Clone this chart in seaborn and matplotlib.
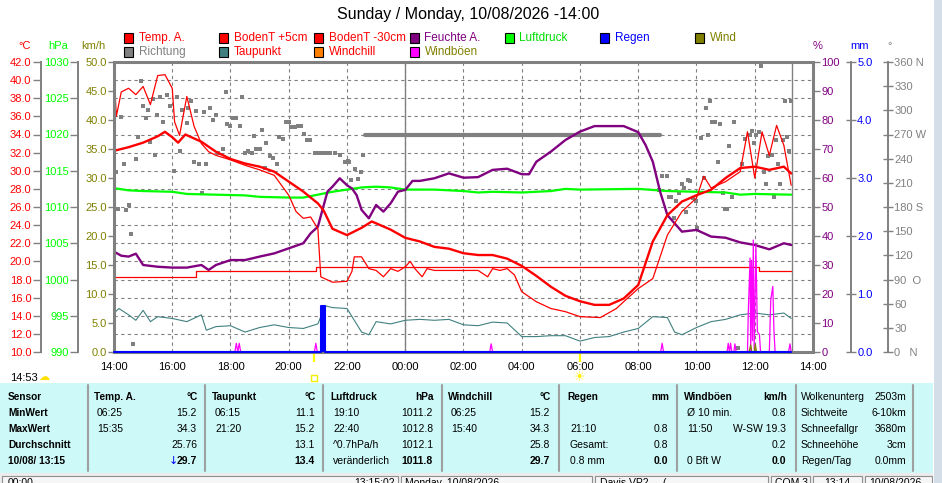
import matplotlib
matplotlib.use("Agg")
import matplotlib.pyplot as plt
import seaborn as sns
from matplotlib.patches import Rectangle
from matplotlib.lines import Line2D

# ------------------------------------------------------------------
# Values (time = hours after 14:00)
# ------------------------------------------------------------------
title = "Sunday / Monday, 10/08/2026 -14:00"
x_ticks = [0, 2, 4, 6, 8, 10, 12, 14, 16, 18, 20, 22, 24]
x_labels = ["14:00", "16:00", "18:00", "20:00", "22:00", "00:00", "02:00",
            "04:00", "06:00", "08:00", "10:00", "12:00", "14:00"]
midnight = 10
now_t = 23.28

# Temp. A. (°C)
temp_t = [0, 0.5, 1, 1.5, 1.75, 2, 2.2, 2.45, 3, 3.5, 4, 4.5, 5, 5.5, 6, 6.5, 7, 7.2, 7.5, 8,
          8.5, 8.85, 9, 9.5, 10, 10.5, 11, 11.5, 12, 12.5, 13, 13.5, 14, 14.5, 15, 15.5, 16, 16.5, 17, 17.5,
          18, 18.5, 19, 19.5, 20, 20.5, 21, 21.5, 22, 22.5, 23, 23.25]
temp_a = [32.2, 32.6, 33.1, 33.8, 34.3, 33.7, 33.1, 34.0, 33.2, 32.1, 31.3, 30.8, 30.45, 29.9, 28.8, 27.7, 26.4, 25.6, 23.6, 22.9,
          23.7, 24.4, 24.2, 23.5, 22.6, 22.2, 21.6, 21.4, 20.9, 20.7, 20.7, 20.3, 19.5, 18.4, 17.2, 16.2, 15.6, 15.2, 15.2, 15.9,
          17.4, 22.2, 25.1, 26.6, 27.3, 27.9, 29.2, 30.3, 30.45, 30.1, 30.45, 29.7]

# BodenT +5cm (°C)
b5_t = [0, 0.08, 0.25, 0.5, 0.75, 1.0, 1.25, 1.5, 1.75, 2.0, 2.08, 2.25, 2.5, 2.75, 3.0, 3.25, 3.5, 4.0, 4.5, 5.0,
        5.5, 6.0, 6.25, 6.5, 6.75, 7.0, 7.1, 7.5, 8.0, 8.17, 8.25, 8.5, 8.75, 9.0, 9.25, 9.5, 9.75, 10.0, 10.17, 10.33,
        10.58, 10.75, 11.0, 11.5, 12.0, 12.5, 12.83, 13.0, 13.25, 13.5, 13.75, 14.0, 14.5, 15.0, 15.5, 16.0, 16.7, 17.25, 17.5, 18.0,
        18.5, 19.0, 19.5, 20.0, 20.25, 20.5, 21.0, 21.5, 21.75, 22.0, 22.25, 22.5, 22.75, 23.0, 23.25]
b5 = [41.1, 36.0, 38.7, 39.1, 38.4, 39.3, 37.3, 40.5, 40.6, 39.1, 35.4, 33.9, 38.2, 34.9, 33.0, 32.1, 31.7, 31.2, 30.6, 30.1,
      29.5, 27.3, 25.5, 24.75, 24.9, 23.6, 18.3, 17.7, 17.8, 18.9, 20.5, 20.5, 19.2, 19.0, 18.3, 19.2, 18.9, 19.4, 20.0, 19.2,
      18.3, 19.2, 19.0, 19.0, 19.0, 19.0, 18.3, 19.2, 19.0, 19.2, 18.5, 16.65, 15.55, 14.8, 14.45, 13.9, 13.8, 14.8, 15.55, 17.0,
      18.1, 22.9, 25.5, 27.0, 29.4, 28.1, 28.8, 29.9, 34.3, 29.2, 34.3, 31.7, 35.0, 32.8, 28.4]

# BodenT -30cm (°C), stepwise
b30_t = [0, 2.8, 6.95, 22.15, 23.25]
b30 = [18.3, 18.9, 19.4, 18.9, 18.9]

# Taupunkt (°C)
dp_t = [0, 0.17, 0.5, 0.75, 1.0, 1.25, 1.5, 2.0, 2.5, 3.0, 3.17, 3.5, 4.0, 4.5, 5.0, 5.5, 6.0, 6.5, 7.0, 7.25,
        7.5, 8.0, 8.5, 8.75, 9.0, 9.5, 10.0, 10.5, 11.0, 11.5, 12.0, 12.5, 13.0, 13.5, 14.0, 14.5, 15.0, 15.5, 16.0, 16.5,
        17.0, 17.5, 18.0, 18.5, 19.0, 19.25, 19.5, 20.0, 20.5, 21.0, 21.5, 22.0, 22.5, 23.0, 23.25]
dp = [14.3, 14.8, 14.1, 13.5, 14.6, 13.35, 13.9, 13.7, 13.35, 14.1, 12.4, 12.8, 12.9, 12.2, 12.7, 13.0, 12.7, 12.6, 13.1, 15.1,
      14.9, 14.8, 12.2, 11.9, 13.35, 13.1, 13.5, 13.6, 13.5, 13.6, 13.0, 12.9, 13.3, 13.2, 11.7, 11.7, 11.8, 11.8, 11.2, 11.6,
      11.7, 12.2, 12.6, 13.9, 13.8, 12.2, 11.9, 12.7, 13.35, 13.6, 14.1, 14.3, 14.1, 14.3, 13.7]

# Feuchte A. (%)
hum_t = [0, 0.25, 0.5, 0.75, 1.0, 1.5, 2.0, 2.5, 3.0, 3.25, 3.5, 4.0, 4.5, 5.0, 5.5, 6.0, 6.5, 6.75, 7.0, 7.17,
         7.33, 7.5, 7.75, 8.0, 8.17, 8.33, 8.5, 8.75, 9.0, 9.25, 9.5, 9.75, 10.0, 10.25, 10.5, 11.0, 11.5, 12.0, 12.5, 13.0,
         13.5, 14.0, 14.25, 14.5, 15.0, 15.5, 16.0, 16.5, 17.0, 17.5, 18.0, 18.25, 18.5, 18.75, 19.0, 19.5, 20.0, 20.5, 21.0, 21.5,
         22.0, 22.5, 23.0, 23.25]
hum = [34.6, 33.2, 32.9, 33.9, 30.0, 29.4, 29.1, 29.1, 30.0, 28.3, 30.0, 31.7, 31.7, 32.9, 34.0, 35.75, 37.5, 40.9, 43.2, 49.5,
       55.3, 57.0, 59.9, 57.5, 56.4, 54.1, 49.0, 46.1, 50.7, 48.4, 51.3, 55.3, 55.9, 59.0, 59.0, 59.9, 61.6, 60.1, 60.3, 62.8,
       63.2, 61.3, 61.3, 65.6, 69.1, 73.1, 76.0, 77.9, 77.9, 77.9, 75.8, 71.4, 65.6, 55.3, 47.2, 41.5, 42.1, 39.8, 39.4, 37.8,
       36.9, 35.4, 37.5, 36.9]

# Luftdruck (hPa)
p_t = [0, 0.5, 1.0, 2.0, 2.5, 3.5, 4.5, 5.0, 6.0, 6.5, 7.0, 7.5, 8.0, 8.5, 9.0, 9.5, 10.0, 11.0, 12.0, 12.5,
       13.0, 14.0, 15.0, 15.5, 16.0, 18.0, 19.0, 20.0, 21.0, 21.5, 22.0, 23.25]
pressure = [1012.6, 1012.3, 1012.2, 1012.1, 1011.8, 1011.7, 1011.6, 1011.4, 1011.3, 1011.3,
            1011.7, 1012.1, 1012.4, 1012.7, 1012.8, 1012.7, 1012.4, 1012.4, 1012.2, 1012.0,
            1012.1, 1012.0, 1012.2, 1012.5, 1012.4, 1012.5, 1012.2, 1012.1, 1012.0, 1011.7, 1011.8, 1011.7]

# Richtung (°), single readings plus the calm period held at 270°
dir_t = [0.07, 0.15, 0.23, 0.34, 0.41, 0.53, 0.57, 0.64, 0.75, 0.83, 0.91, 0.98, 1.10, 1.18, 1.23, 1.33, 1.41, 1.49, 1.58, 1.67,
         1.75, 1.81, 1.92, 2.07, 2.15, 2.26, 2.32, 2.49, 2.55, 2.66, 2.74, 2.83, 2.91, 3.01, 3.09, 3.15, 3.29, 3.41, 3.50, 3.58,
         3.73, 3.84, 3.89, 4.00, 4.09, 4.18, 4.32, 4.41, 4.49, 4.61, 4.75, 4.81, 4.89, 5.01, 5.09, 5.18, 5.23, 5.35, 5.46, 5.58,
         5.66, 5.81, 5.92, 6.01, 6.09, 6.21, 6.32, 6.41, 6.51, 6.61, 6.72, 6.89, 7.01, 7.15, 7.29, 7.43, 7.58, 7.75, 7.92, 8.03,
         8.07, 8.15, 8.26, 8.38, 8.49, 8.55,
         18.71, 18.80, 18.97, 19.05, 19.14, 19.22, 19.30, 19.39, 19.49, 19.57, 19.65, 19.71, 19.79, 19.87, 19.97, 20.03, 20.14, 20.25,
         20.31, 20.40, 20.48, 20.54, 20.65, 20.74, 20.82, 20.90, 20.97, 21.06, 21.13, 21.22, 21.30, 21.41, 21.57, 21.65, 21.82, 21.89,
         21.97, 22.05, 22.14, 22.23, 22.31, 22.39, 22.46, 22.59, 22.65, 22.73, 22.80, 22.88, 22.96, 23.03, 23.11, 23.17, 23.23]
dir_deg = [224, 178, 292, 234, 176, 182, 147, 10, 240, 267, 336, 305, 291, 301, 261, 314, 245, 294, 316, 286,
           360, 319, 306, 225, 316, 249, 301, 284, 303, 311, 236, 299, 234, 197, 298, 234, 303, 288, 294, 247,
           252, 323, 283, 281, 291, 291, 281, 317, 247, 250, 247, 268, 252, 252, 276, 229, 260, 243, 241, 233,
           267, 265, 285, 285, 279, 279, 280, 281, 271, 263, 263, 247, 247, 247, 247, 247, 247, 245, 236, 237,
           236, 214, 227, 215, 224, 245,
           201, 218, 218, 193, 193, 166, 187, 197, 209, 203, 174, 214, 212, 191, 187, 154, 266, 216,
           303, 270, 312, 286, 286, 236, 283, 197, 177, 178, 256, 193, 285, 5, 234, 264, 269, 274,
           260, 269, 273, 355, 224, 209, 243, 245, 193, 263, 233, 208, 263, 311, 267, 250, 311]
calm_t = [8.63, 18.74]
calm_deg = [270, 270]

# Windböen and Wind (km/h)
gust_t = [0, 4.15, 4.2, 4.25, 4.3, 4.35, 6.88, 6.93, 6.98, 12.9, 12.95, 13.0, 18.77, 18.82, 18.87,
          21.05, 21.09, 21.13, 21.17, 21.21, 21.28, 21.32, 21.36, 21.75, 21.78, 21.84, 21.86, 21.89, 21.92,
          21.95, 21.98, 22.04, 22.09, 22.16, 22.2, 22.5, 22.55, 22.62, 22.66, 22.7, 23.16, 23.21, 23.25]
gust = [0, 0, 1.5, 0, 1.5, 0, 0, 1.5, 0, 0, 1.4, 0, 0, 1.5, 0,
        0, 1.5, 0, 1.5, 0, 0, 1.4, 0, 0, 7.2, 16.2, 0, 15.8, 2.0,
        19.3, 0.5, 18.4, 3.5, 3.0, 0, 0, 9.0, 11.3, 3.5, 0, 0, 1.4, 0]
wind_t = [0, 21.8, 21.86, 21.9, 21.98, 22.02, 22.06, 23.25]
wind = [0, 0, 1.2, 0, 0, 1.3, 0, 0]

# Regen (mm)
rain_t = [0, 7.1, 7.25, 23.25]
rain_mm = [0, 0.8, 0, 0]

sun_t = [6.87, 16.0]      # sunset 20:52, sunrise 06:00

# scales
c_ticks = [10, 12, 14, 16, 18, 20, 22, 24, 26, 28, 30, 32, 34, 36, 38, 40, 42]
hpa_ticks = [990, 995, 1000, 1005, 1010, 1015, 1020, 1025, 1030]
kmh_ticks = [0, 5, 10, 15, 20, 25, 30, 35, 40, 45, 50]
pct_ticks = [0, 10, 20, 30, 40, 50, 60, 70, 80, 90, 100]
mm_ticks = [0, 1, 2, 3, 4, 5]
deg_ticks = [0, 30, 60, 90, 120, 150, 180, 210, 240, 270, 300, 330, 360]
deg_labels = ["0   N", "30", "60", "90  O", "120", "150", "180 S", "210", "240", "270 W", "300", "330", "360 N"]

# legend
legend_rows = [
    [("Temp. A.", "#ff0000", "#ff0000"), ("BodenT +5cm", "#ff0000", "#ff0000"),
     ("BodenT -30cm", "#ff0000", "#ff0000"), ("Feuchte A.", "#800080", "#800080"),
     ("Luftdruck", "#00ff00", "#00dd00"), ("Regen", "#0000ff", "#0000ff"), ("Wind", "#808000", "#808000")],
    [("Richtung", "#808080", "#808080"), ("Taupunkt", "#408080", "#ff0000"),
     ("Windchill", "#ff8000", "#ff0000"), ("Windböen", "#ff00ff", "#808000")],
]

# statistics table
row_labels = ["Sensor", "MinWert", "MaxWert", "Durchschnitt", "10/08/ 13:15"]
table_heads = [("Temp. A.", "°C"), ("Taupunkt", "°C"), ("Luftdruck", "hPa"),
               ("Windchill", "°C"), ("Regen", "mm"), ("Windböen", "km/h")]
table_items = [["06:25", "15:35", "", ""], ["06:15", "21:20", "", ""],
               ["19:10", "22:40", "^0.7hPa/h", "veränderlich"], ["06:25", "15:40", "", ""],
               ["", "21:10", "Gesamt:", "0.8 mm"], ["Ø 10 min.", "11:50", "", "0 Bft W"]]
table_values = [["15.2", "34.3", "25.76", "29.7"], ["11.1", "15.2", "13.1", "13.4"],
                ["1011.2", "1012.8", "1012.1", "1011.8"], ["15.2", "34.3", "25.8", "29.7"],
                ["", "0.8", "0.8", "0.0"], ["0.8", "W-SW 19.3", "0.2", "0.0"]]
extra_names = ["Wolkenunterg", "Sichtweite", "Schneefallgr", "Schneehöhe", "Regen/Tag"]
extra_values = ["2503m", "6-10km", "3680m", "3cm", "0.0mm"]
status_texts = [("00:00", 8, "left"), ("13:15:02", 395, "right"), ("Monday, 10/08/2026", 405, "left"),
                ("Davis VP2 ... (...", 600, "left"), ("COM 3", 775, "left"), ("13:14", 824, "left"),
                ("10/08/2026", 869, "left")]

# ------------------------------------------------------------------
W, H = 942, 483
RED, PURPLE, GREEN, TEAL = "#ff0000", "#800080", "#00ff00", "#408080"
GRAY, BLUE, OLIVE, MAGENTA = "#808080", "#0000ff", "#808000", "#ff00ff"
CYAN = "#cdf9f8"

sns.set_style("white")
plt.rcParams["font.family"] = ["Liberation Sans", "DejaVu Sans"]
PT = 0.72  # points per pixel at 100 dpi


def fx(px):
    return px / W


def fy(py):
    return 1 - py / H


def put(px, py, s, **kw):
    kw.setdefault("va", "center")
    fig.text(fx(px), fy(py), s, **kw)


def style_axis(a, side, offset_px, color, length=4, direction="out", pad=1):
    for s in a.spines.values():
        s.set_visible(False)
    sp = a.spines[side]
    sp.set_visible(True)
    sp.set_position(("outward", offset_px * PT))
    sp.set_color(GRAY)
    sp.set_linewidth(1.4)
    if side == "left":
        a.yaxis.tick_left()
    else:
        a.yaxis.tick_right()
    a.tick_params(axis="y", direction=direction, length=length, width=1, color=GRAY,
                  labelcolor=color, labelsize=8, pad=pad)
    a.tick_params(axis="x", bottom=False, labelbottom=False, top=False, labeltop=False)


def hide_axis(a):
    for s in a.spines.values():
        s.set_visible(False)
    a.set_yticks([])
    a.tick_params(axis="both", left=False, right=False, bottom=False, labelbottom=False,
                  labelleft=False, labelright=False)


fig = plt.figure(figsize=(W / 100, H / 100), dpi=100)
fig.patch.set_facecolor("white")

host = fig.add_axes([fx(114), fy(352), 699 / W, 290 / H])   # °C scale + grid
ax_d = host.twinx()
ax_h = host.twinx()
ax_p = host.twinx()
ax_t = host.twinx()
ax_k = host.twinx()
ax_mm = host.twinx()

# --- series ---
sns.scatterplot(x=dir_t, y=dir_deg, ax=ax_d, marker="s", s=11, color=GRAY, linewidth=0)
sns.lineplot(x=calm_t, y=calm_deg, ax=ax_d, color=GRAY, linewidth=3.0, estimator=None, sort=False)

sns.lineplot(x=p_t, y=pressure, ax=ax_h, color=GREEN, linewidth=1.6, estimator=None, sort=False)
sns.lineplot(x=hum_t, y=hum, ax=ax_p, color=PURPLE, linewidth=1.7, estimator=None, sort=False)

sns.lineplot(x=dp_t, y=dp, ax=ax_t, color=TEAL, linewidth=0.8, estimator=None, sort=False)
sns.lineplot(x=b30_t, y=b30, ax=ax_t, color=RED, linewidth=0.9, estimator=None, sort=False,
             drawstyle="steps-post")
sns.lineplot(x=b5_t, y=b5, ax=ax_t, color=RED, linewidth=0.9, estimator=None, sort=False)
sns.lineplot(x=temp_t, y=temp_a, ax=ax_t, color=RED, linewidth=1.7, estimator=None, sort=False)

sns.lineplot(x=gust_t, y=gust, ax=ax_k, color=MAGENTA, linewidth=0.9, estimator=None, sort=False)
sns.lineplot(x=wind_t, y=wind, ax=ax_k, color=OLIVE, linewidth=0.9, estimator=None, sort=False)

ax_mm.fill_between(rain_t, rain_mm, step="post", color=BLUE, linewidth=0, zorder=2)
sns.lineplot(x=rain_t, y=rain_mm, ax=ax_mm, color=BLUE, linewidth=1.5, estimator=None, sort=False,
             drawstyle="steps-post", clip_on=False, zorder=3)

# --- limits and ticks ---
for a in (host, ax_d, ax_h, ax_p, ax_t, ax_k, ax_mm):
    a.set_xlim(0, 24)
    a.set_xlabel("")
    a.set_ylabel("")

host.set_ylim(10, 42)
host.set_yticks(c_ticks)
host.set_yticklabels([f"{v:.1f}" for v in c_ticks])
style_axis(host, "left", 73, RED, length=6)
host.set_xticks(x_ticks)
host.set_xticklabels(x_labels)
host.tick_params(axis="x", bottom=True, labelbottom=True, length=0, pad=7, labelsize=8, labelcolor="black")
host.grid(True, color=GRAY, linestyle=(0, (3, 3)), linewidth=0.8)
host.axvline(midnight, color=GRAY, linewidth=1.0)
host.axvline(now_t, color=GRAY, linewidth=1.0)

ax_t.set_ylim(10, 42)
hide_axis(ax_t)

ax_h.set_ylim(990, 1030)
ax_h.set_yticks(hpa_ticks)
ax_h.set_yticklabels([str(v) for v in hpa_ticks])
style_axis(ax_h, "left", 36, GREEN, length=6, pad=0.5)

ax_k.set_ylim(0, 50)
ax_k.set_yticks(kmh_ticks)
ax_k.set_yticklabels([f"{v:.1f}" for v in kmh_ticks])
style_axis(ax_k, "left", 0, OLIVE, length=4)

ax_p.set_ylim(0, 100)
ax_p.set_yticks(pct_ticks)
ax_p.set_yticklabels([str(v) for v in pct_ticks])
style_axis(ax_p, "right", 0, PURPLE, length=5)

ax_mm.set_ylim(0, 5)
ax_mm.set_yticks(mm_ticks)
ax_mm.set_yticklabels([f"{v:.1f}" for v in mm_ticks])
style_axis(ax_mm, "right", 38, BLUE, length=7, direction="inout", pad=1)

ax_d.set_ylim(0, 360)
ax_d.set_yticks(deg_ticks)
ax_d.set_yticklabels(deg_labels)
style_axis(ax_d, "right", 75, GRAY, length=7, direction="inout", pad=1)
for a in (ax_d, ax_h, ax_p, ax_k, ax_mm):
    a.grid(False)

# plot frame
ax_mm.add_patch(Rectangle((0, 0), 1, 1, transform=ax_mm.transAxes, fill=False,
                          edgecolor=GRAY, linewidth=2.2, clip_on=False, zorder=1))

# sunrise / sunset markers
host.vlines(sun_t, -0.035, 0.0, transform=host.get_xaxis_transform(), colors="#ffff00",
            linewidth=1.6, clip_on=False)
host.scatter([sun_t[0]], [-0.09], transform=host.get_xaxis_transform(), marker="s", s=18,
             facecolor="none", edgecolor="#f0f000", linewidth=1.0, clip_on=False)
host.text(sun_t[1], -0.09, "☀", transform=host.get_xaxis_transform(), color="#ffee00",
          fontsize=9, ha="center", va="center", family=["DejaVu Sans"], clip_on=False)
put(10, 378, "14:53", fontsize=8, color="black")
put(44, 377, "☁", fontsize=8, color="#ffe000", family=["DejaVu Sans"], ha="center")

# --- title, unit labels, legend ---
put(468, 15, title, fontsize=11.5, ha="center", color="black")
for txt, px, c in [("°C", 25, RED), ("hPa", 58, GREEN), ("km/h", 93, OLIVE),
                   ("%", 818, PURPLE), ("mm", 860, BLUE), ("°", 890, GRAY)]:
    put(px, 46, txt, fontsize=8, ha="center", color=c)

legend_x = [124, 219, 314, 409.5, 504.5, 599.5, 694.5]
legend_y = [38, 52]
for r, items in enumerate(legend_rows):
    for i, (name, box_c, txt_c) in enumerate(items):
        x0, y0 = legend_x[i], legend_y[r]
        fig.add_artist(Rectangle((fx(x0), fy(y0 + 4.5)), 9 / W, 9 / H, transform=fig.transFigure,
                                 facecolor=box_c, edgecolor="black", linewidth=0.8))
        put(x0 + 15, y0, name, fontsize=8.5, color=txt_c)

# --- statistics table ---
fig.add_artist(Rectangle((0, fy(473)), 933 / W, 90 / H, transform=fig.transFigure,
                         facecolor=CYAN, edgecolor="none"))
for sx in [88, 205, 323, 442, 559, 677, 796, 913]:
    fig.add_artist(Line2D([fx(sx), fx(sx)], [fy(385), fy(471)], color="#a0a0a0", linewidth=1.5))

row_y = [397, 413, 429, 445, 461]
head_x = [94, 212, 330, 448, 567, 684]
right_x = [198, 316, 434, 551, 669, 787]
for r, lab in enumerate(row_labels):
    put(8, row_y[r], lab, fontsize=7.3, fontweight="bold", color="black")
for c, (head, unit) in enumerate(table_heads):
    put(head_x[c], row_y[0], head, fontsize=7.3, fontweight="bold", color="black")
    put(right_x[c], row_y[0], unit, fontsize=7.3, fontweight="bold", color="black", ha="right")
    for r in range(4):
        put(head_x[c] + 3, row_y[r + 1], table_items[c][r], fontsize=7.5, color="black")
        put(right_x[c] - 1, row_y[r + 1], table_values[c][r], fontsize=7.5, color="black", ha="right",
            fontweight="bold" if r == 3 else "normal")
put(right_x[0] - 20, row_y[4], "↓", fontsize=8, color=BLUE, ha="right", family=["DejaVu Sans"])
for r in range(5):
    put(801, row_y[r], extra_names[r], fontsize=7.5, color="black")
    put(906, row_y[r], extra_values[r], fontsize=7.5, color="black", ha="right")

# --- status bar and window edge ---
fig.add_artist(Rectangle((0, 0), 933 / W, 10 / H, transform=fig.transFigure,
                         facecolor="#ececec", edgecolor="none"))
for x0, x1 in [(2, 398), (401, 592), (595, 768), (771, 810), (813, 862), (865, 932)]:
    fig.add_artist(Rectangle((fx(x0), fy(485)), (x1 - x0) / W, 9 / H, transform=fig.transFigure,
                             facecolor="#f6f6f6", edgecolor="#909090", linewidth=0.8))
for txt, px, ha in status_texts:
    put(px, 478, txt, fontsize=7.5, color="black", ha=ha, va="top")
fig.add_artist(Rectangle((fx(934), 0), 8 / W, 1, transform=fig.transFigure,
                         facecolor="#d3dee8", edgecolor="none"))

fig.savefig("out.png", dpi=100)
